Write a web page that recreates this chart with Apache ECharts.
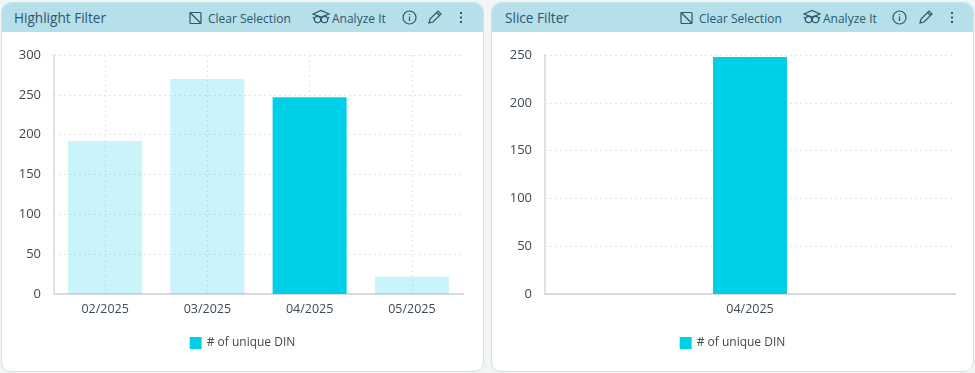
<!DOCTYPE html>
<html>
<head>
<meta charset="utf-8">
<script src="https://cdn.jsdelivr.net/npm/echarts@6/dist/echarts.min.js"></script>
<style>
  html, body { margin: 0; padding: 0; background: #f3f4f4; width: 975px; height: 373px; overflow: hidden; font-family: "Open Sans", sans-serif; }
  .card { position: absolute; top: 2px; height: 370px; background: #fff; border: 1px solid #c5e5ec; border-radius: 10px; overflow: hidden; box-sizing: border-box; }
  .head { position: absolute; left: 0; right: 0; top: 0; height: 29px; background: #b5dfe9; color: #2e5670; }
  .head span, .head svg { position: absolute; }
  .head .title { top: 5px; font-size: 13.6px; white-space: nowrap; }
  .head .act { top: 7px; font-size: 12px; white-space: nowrap; }
  .chart { position: absolute; left: 0; top: 0; width: 100%; height: 100%; }
  svg { fill: none; stroke: #2e5670; stroke-width: 1.2; }
</style>
</head>
<body>
<div class="card" id="cardA" style="left:1px;width:483px">
  <div class="chart" id="chartA"></div>
  <div class="head">
    <span class="title" style="left:12px">Highlight Filter</span>
    <svg style="left:187px;top:8px" width="14" height="14"><rect x="1" y="1.5" width="11" height="11" rx="1"/><path d="M1 1.5L12 12.5"/></svg>
    <span class="act" style="left:206px">Clear Selection</span>
    <svg style="left:309px;top:6px" width="20" height="17"><path d="M2 5L10 1.5L18 5L10 8Z"/><circle cx="6.5" cy="10.5" r="3.2"/><circle cx="13.5" cy="10.5" r="3.2"/><path d="M2 8L3.3 10M18 8L16.7 10"/></svg>
    <span class="act" style="left:330px">Analyze It</span>
    <svg style="left:400px;top:7px" width="15" height="15"><circle cx="7.5" cy="7.5" r="6.5"/><path d="M7.5 6.5V11M7.5 4V5"/></svg>
    <svg style="left:425px;top:6px" width="16" height="16"><path d="M2 14L3 10L11 2L14 5L6 13ZM9.5 3.5L12.5 6.5"/></svg>
    <svg style="left:457px;top:7px" width="4" height="15"><path d="M2 2V4M2 6.5V8.5M2 11V13" stroke-width="2"/></svg>
  </div>
</div>
<div class="card" id="cardB" style="left:491px;width:483px">
  <div class="chart" id="chartB"></div>
  <div class="head">
    <span class="title" style="left:13px">Slice Filter</span>
    <svg style="left:188px;top:8px" width="14" height="14"><rect x="1" y="1.5" width="11" height="11" rx="1"/><path d="M1 1.5L12 12.5"/></svg>
    <span class="act" style="left:207px">Clear Selection</span>
    <svg style="left:310px;top:6px" width="20" height="17"><path d="M2 5L10 1.5L18 5L10 8Z"/><circle cx="6.5" cy="10.5" r="3.2"/><circle cx="13.5" cy="10.5" r="3.2"/><path d="M2 8L3.3 10M18 8L16.7 10"/></svg>
    <span class="act" style="left:331px">Analyze It</span>
    <svg style="left:400px;top:7px" width="15" height="15"><circle cx="7.5" cy="7.5" r="6.5"/><path d="M7.5 6.5V11M7.5 4V5"/></svg>
    <svg style="left:426px;top:6px" width="16" height="16"><path d="M2 14L3 10L11 2L14 5L6 13ZM9.5 3.5L12.5 6.5"/></svg>
    <svg style="left:458px;top:7px" width="4" height="15"><path d="M2 2V4M2 6.5V8.5M2 11V13" stroke-width="2"/></svg>
  </div>
</div>
<script>
var seriesName = '# of unique DIN'
var highlightMonths = ['02/2025', '03/2025', '04/2025', '05/2025']
var highlightValues = [192, 270, 247, 22]
var highlightSelected = '04/2025'
var sliceMonths = ['04/2025']
var sliceValues = [248]

var colorOn = '#00cfe8'
var textColor = '#3f4a52'
var gridColor = '#e0e5e7'

// 两张卡片共用的配置
function buildOption (months, values, yMax, yStep, selected, gridLeft, gridRight) {
  return {
    animation: false,
    textStyle: { fontFamily: 'Open Sans', color: textColor },
    legend: {
      data: [{ name: seriesName, itemStyle: { color: colorOn } }],
      left: 'center',
      top: 329,
      icon: 'rect',
      itemWidth: 12,
      itemHeight: 12,
      itemGap: 6,
      textStyle: { color: textColor, fontSize: 12 }
    },
    grid: { left: gridLeft, right: gridRight, top: 52, bottom: 77 },
    xAxis: {
      type: 'category',
      data: months,
      axisLine: { lineStyle: { color: '#d5dbe0', width: 2 } },
      axisTick: { show: false },
      axisLabel: { color: textColor, fontSize: 12.5, margin: 9 },
      splitLine: { show: true, alignWithLabel: true, lineStyle: { color: gridColor, type: [2, 3] } }
    },
    yAxis: {
      type: 'value',
      min: 0,
      max: yMax,
      interval: yStep,
      axisLine: { show: true, lineStyle: { color: '#dfe3e6', width: 2 } },
      axisTick: { show: false },
      axisLabel: { color: textColor, fontSize: 13, margin: 13 },
      splitLine: { show: true, lineStyle: { color: gridColor, type: [2, 3] } }
    },
    series: [{
      name: seriesName,
      type: 'bar',
      barWidth: 74,
      data: values.map(function (v, i) {
        return { value: v, itemStyle: { color: colorOn, opacity: months[i] === selected ? 1 : 0.21 } }
      })
    }]
  }
}

var chartA = echarts.init(document.getElementById('chartA'))
chartA.setOption(buildOption(highlightMonths, highlightValues, 300, 50, highlightSelected, 52, 20))
var chartB = echarts.init(document.getElementById('chartB'))
chartB.setOption(buildOption(sliceMonths, sliceValues, 250, 50, highlightSelected, 53, 18))
</script>
</body>
</html>
